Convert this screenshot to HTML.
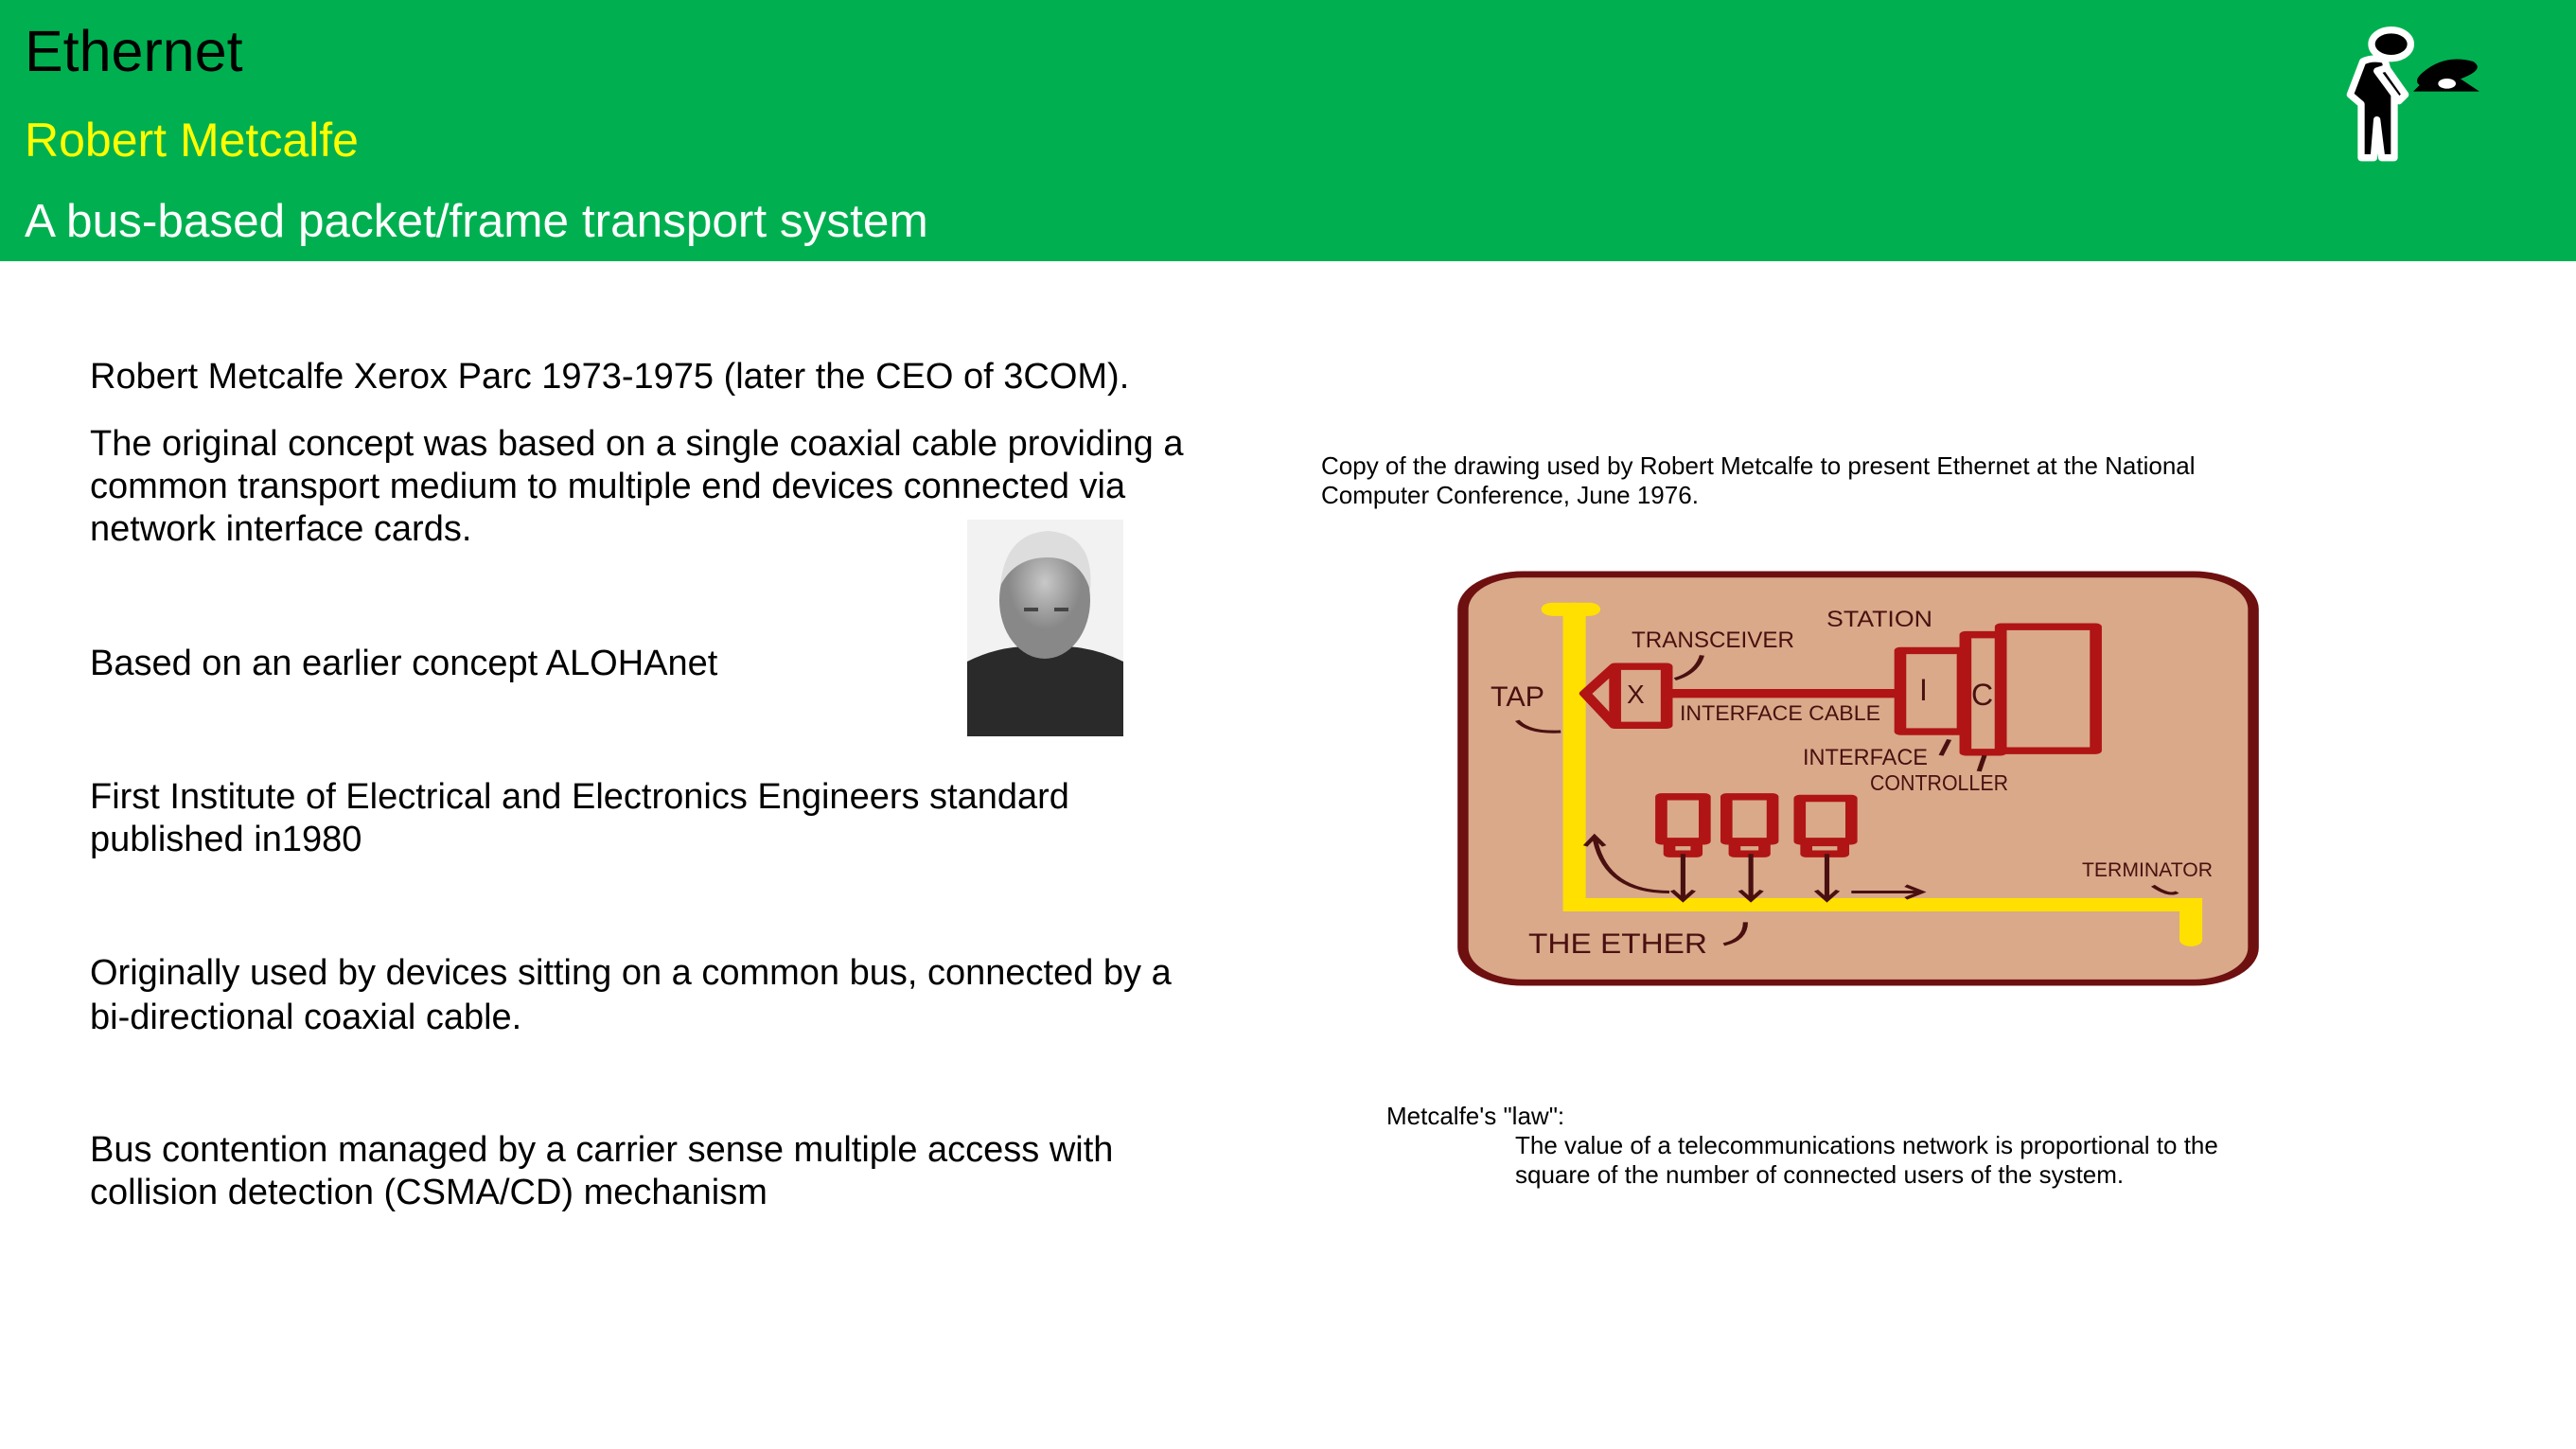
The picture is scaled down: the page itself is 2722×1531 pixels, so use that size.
<!DOCTYPE html>
<html><head><meta charset="utf-8"><style>
body{margin:0;width:2722px;height:1531px;position:relative;background:#fff;font-family:"Liberation Sans",sans-serif;overflow:hidden}
.h{position:absolute;left:0;top:0;width:2722px;height:276px;background:#00b050}
.t{position:absolute;white-space:nowrap;line-height:1}
.b{font-size:38px;color:#000;left:95px}
.s{font-size:26px;color:#000}
</style></head><body>
<div class="h"></div>
<div class="t" style="left:26px;top:24px;font-size:61px;color:#000">Ethernet</div>
<div class="t" style="left:26px;top:123px;font-size:50px;color:#ffff00">Robert Metcalfe</div>
<div class="t" style="left:26px;top:209px;font-size:49.5px;color:#fff">A bus-based packet/frame transport system</div>

<svg style="position:absolute;left:2440px;top:0" width="200" height="200" viewBox="0 0 600 600">
<g stroke="#fff" stroke-width="22" stroke-linejoin="round" stroke-linecap="round">
<ellipse cx="260" cy="140" rx="62" ry="45" fill="#000"/>
<path d="M170 195 Q200 180 240 190 L270 300 L270 500 L230 500 L215 380 L205 500 L165 500 L165 330 L130 300 Z" fill="#000"/>
<path d="M215 225 L245 215 L305 300 L285 320 Z" fill="#000"/>
</g>
<path d="M330 290 L540 290 L480 250 Q560 220 520 195 Q430 170 360 230 Q330 255 350 270 Z" fill="#000"/>
<ellipse cx="437" cy="265" rx="28" ry="16" fill="#fff"/>
</svg>

<div class="t b" style="top:379px">Robert Metcalfe Xerox Parc 1973-1975 (later the CEO of 3COM).</div>
<div class="t b" style="top:450px">The original concept was based on a single coaxial cable providing a</div>
<div class="t b" style="top:495px">common transport medium to multiple end devices connected via</div>
<div class="t b" style="top:540px">network interface cards.</div>
<div class="t b" style="top:682px">Based on an earlier concept ALOHAnet</div>
<div class="t b" style="top:823px">First Institute of Electrical and Electronics Engineers standard</div>
<div class="t b" style="top:868px">published in1980</div>
<div class="t b" style="top:1009px">Originally used by devices sitting on a common bus, connected by a</div>
<div class="t b" style="top:1056px">bi-directional coaxial cable.</div>
<div class="t b" style="top:1196px">Bus contention managed by a carrier sense multiple access with</div>
<div class="t b" style="top:1241px">collision detection (CSMA/CD) mechanism</div>

<svg style="position:absolute;left:1022px;top:549px" width="165" height="229" viewBox="0 0 165 229">
<defs><radialGradient id="f" cx="0.5" cy="0.35" r="0.4"><stop offset="0" stop-color="#c8c8c8"/><stop offset="1" stop-color="#888"/></radialGradient></defs>
<rect width="165" height="229" fill="#f2f2f2"/>
<path d="M0 229 L0 150 Q40 130 82 135 Q125 130 165 150 L165 229Z" fill="#2a2a2a"/>
<ellipse cx="82" cy="85" rx="48" ry="62" fill="url(#f)"/>
<path d="M35 70 Q40 15 85 12 Q135 15 130 75 Q120 40 85 40 Q50 40 35 70Z" fill="#ddd"/>
<path d="M60 95 h15 M92 95 h15" stroke="#444" stroke-width="4"/>
</svg>

<div class="t s" style="left:1396px;top:479px">Copy of the drawing used by Robert Metcalfe to present Ethernet at the National</div>
<div class="t s" style="left:1396px;top:510px">Computer Conference, June 1976.</div>

<svg style="position:absolute;left:1500px;top:580px" width="900" height="480" viewBox="0 0 1568 1430" preserveAspectRatio="none">
<rect x="80" y="80" width="1455" height="1285" rx="110" fill="#d9a98a" stroke="#6e1010" stroke-width="20"/>
<g fill="none" stroke="#ffe000" stroke-width="42" stroke-linecap="round">
<path d="M245 190 H312"/>
<path d="M285 190 V1120 H1420 V1230"/>
</g>
<g fill="none" stroke="#b01414" stroke-width="22" stroke-linejoin="round">
<path d="M305 455 L360 370 H455 V555 H360 Z"/>
<path d="M360 370 V555"/>
<path d="M455 455 H880" stroke-width="28"/>
<rect x="885" y="320" width="115" height="255"/>
<rect x="1005" y="270" width="65" height="370"/>
<rect x="1070" y="245" width="175" height="390"/>
<rect x="445" y="780" width="80" height="140"/><rect x="460" y="925" width="50" height="35"/>
<rect x="565" y="780" width="85" height="140"/><rect x="580" y="925" width="55" height="35"/>
<rect x="700" y="785" width="95" height="135"/><rect x="712" y="925" width="68" height="35"/>
</g>
<g fill="none" stroke="#4a1010" stroke-width="9">
<path d="M485 960 V1105 M465 1075 L485 1105 L505 1075"/>
<path d="M610 960 V1105 M590 1075 L610 1105 L630 1075"/>
<path d="M750 960 V1105 M730 1075 L750 1105 L770 1075"/>
<path d="M795 1080 H925 M895 1060 L925 1080 L895 1100"/>
<path d="M460 1080 Q340 1080 322 905 M305 935 L322 905 L340 935"/>
<path d="M520 335 Q510 390 470 410"/>
<path d="M180 540 Q200 580 260 575"/>
<path d="M1350 1060 Q1380 1095 1395 1080"/>
<path d="M560 1245 Q600 1230 600 1175"/>
<path d="M960 650 L975 600"/>
<path d="M1030 700 L1040 650"/>
</g>
</svg>
<svg style="position:absolute;left:0;top:0" width="2722" height="1531">
<g font-family="Liberation Sans, sans-serif" fill="#4a1010" lengthAdjust="spacingAndGlyphs">
<text x="1930" y="662" font-size="24" textLength="112" lengthAdjust="spacingAndGlyphs">STATION</text>
<text x="1724" y="684" font-size="24" textLength="172" lengthAdjust="spacingAndGlyphs">TRANSCEIVER</text>
<text x="1575" y="746" font-size="30" textLength="57" lengthAdjust="spacingAndGlyphs">TAP</text>
<text x="1719" y="743" font-size="28">X</text>
<text x="1775" y="761" font-size="22" textLength="212" lengthAdjust="spacingAndGlyphs">INTERFACE CABLE</text>
<text x="2028" y="740" font-size="32">I</text>
<text x="2083" y="745" font-size="32">C</text>
<text x="1905" y="808" font-size="24" textLength="132" lengthAdjust="spacingAndGlyphs">INTERFACE</text>
<text x="1976" y="835" font-size="23" textLength="146" lengthAdjust="spacingAndGlyphs">CONTROLLER</text>
<text x="2200" y="926" font-size="21" textLength="138" lengthAdjust="spacingAndGlyphs">TERMINATOR</text>
<text x="1615" y="1007" font-size="30" textLength="189" lengthAdjust="spacingAndGlyphs">THE ETHER</text>
</g>
</svg>

<div class="t s" style="left:1465px;top:1166px">Metcalfe's "law":</div>
<div class="t s" style="left:1601px;top:1197px">The value of a telecommunications network is proportional to the</div>
<div class="t s" style="left:1601px;top:1228px">square of the number of connected users of the system.</div>
</body></html>
